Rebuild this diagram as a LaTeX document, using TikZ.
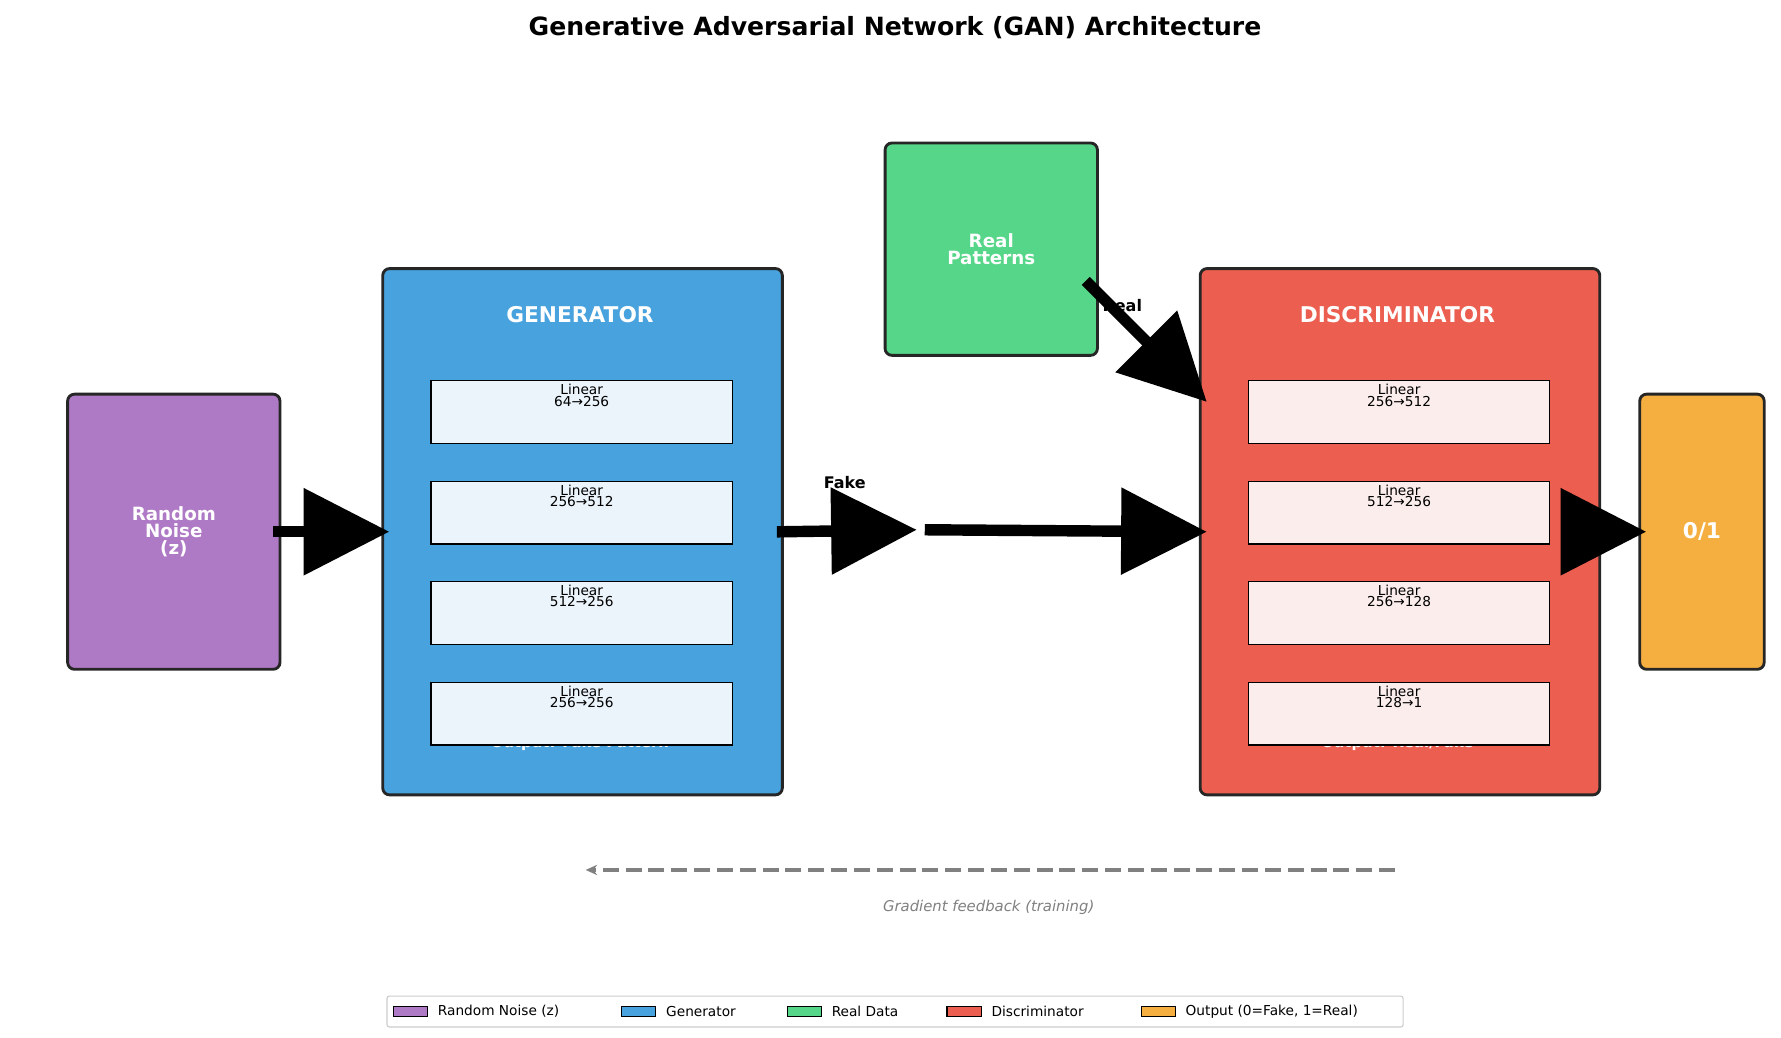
\documentclass[tikz,border=0pt]{standalone}
\usepackage{fontspec}
\setmainfont{DejaVu Sans}
\usetikzlibrary{positioning}
\usetikzlibrary{arrows.meta}
\definecolor{noisec}{RGB}{175,122,197}
\definecolor{genc}{RGB}{72,162,222}
\definecolor{realc}{RGB}{86,214,136}
\definecolor{discc}{RGB}{235,94,80}
\definecolor{outc}{RGB}{245,175,65}
\definecolor{genl}{RGB}{235,244,251}
\definecolor{discl}{RGB}{251,237,236}

\begin{document}
\begin{tikzpicture}[
  x=1pt, y=-1pt,
  block/.style = {draw=black!85, line width=2.5pt, rounded corners=6pt, anchor=north west, inner sep=0pt},
  layer/.style = {draw=black, line width=1pt, anchor=north west, inner sep=0pt,
                  minimum width=264pt, minimum height=55pt},
  ltext/.style = {align=center, font=\fontsize{12}{13}\selectfont, anchor=north},
  btext/.style = {text=white, font=\bfseries\fontsize{16}{18}\selectfont, align=center},
  bigarrow/.style = {line width=10pt, -{Triangle[length=75pt,width=74pt]}},
  legbox/.style = {draw=black, line width=1pt, minimum width=30pt, minimum height=9pt, inner sep=0pt},
  legtext/.style = {font=\fontsize{12}{13}\selectfont, anchor=west},
]
  \useasboundingbox (0,0) rectangle (1560,909);

  \node[font=\bfseries\fontsize{22}{24}\selectfont] (title) at (784,24) {Generative Adversarial Network (GAN) Architecture};

  % blocks
  \node[block, fill=noisec, minimum width=186pt, minimum height=241pt] (noise) at (58,344) {};
  \node[btext] at (noise.center) {Random\\[-3pt]Noise\\[-3pt](z)};

  \node[block, fill=genc, minimum width=350pt, minimum height=461pt] (gen) at (334,234) {};
  \node[btext, font=\bfseries\fontsize{19}{20}\selectfont] at (508,276) {GENERATOR};
  \node[btext, font=\bfseries\fontsize{13}{14}\selectfont] at (508,651) {Output: Fake Pattern};

  \node[block, fill=realc, minimum width=186pt, minimum height=186pt] (real) at (774,124) {};
  \node[btext] at (real.center) {Real\\[-3pt]Patterns};

  \node[block, fill=discc, minimum width=350pt, minimum height=461pt] (disc) at (1050,234) {};
  \node[btext, font=\bfseries\fontsize{19}{20}\selectfont] at (1224,276) {DISCRIMINATOR};
  \node[btext, font=\bfseries\fontsize{13}{14}\selectfont] at (1224,651) {Output: Real/Fake};

  \node[block, fill=outc, minimum width=109pt, minimum height=241pt] (out) at (1435,344) {};
  \node[btext, font=\bfseries\fontsize{19}{20}\selectfont] at (out.center) {0/1};

  % layers
  \foreach \y/\t [count=\i] in {333/64→256, 421/256→512, 509/512→256, 597/256→256}{
    \node[layer, fill=genl] (g\i) at (377,\y) {};
    \node[ltext] at (g\i.north) {Linear\\[-3pt]\t};
  }
  \foreach \y/\t [count=\i] in {333/256→512, 421/512→256, 509/256→128, 597/128→1}{
    \node[layer, fill=discl] (d\i) at (1093,\y) {};
    \node[ltext] at (d\i.north) {Linear\\[-3pt]\t};
  }

  % labels
  \node[font=\bfseries\fontsize{14}{15}\selectfont] (fake) at (740,423) {Fake};
  \node[font=\bfseries\fontsize{14}{15}\selectfont] (reallab) at (983,268) {Real};

  % arrows
  \coordinate (fk) at (806,464);
  \coordinate (rs) at (951,246);
  \coordinate (re) at (1057,352);
  \draw[bigarrow, shorten <=-7pt, shorten >=-7pt] (noise.east) -- (gen.west);
  \draw[bigarrow, shorten <=-6pt, shorten >=3pt] (gen.east) -- (fk);
  \draw[bigarrow, shorten <=4pt, shorten >=-7pt] (fk) -- (disc.west);
  \draw[bigarrow] (rs) -- (re);
  \draw[bigarrow, shorten >=-7pt] (disc.east) -- (out.west);

  % feedback
  \coordinate (fbs) at (1222,762);
  \coordinate (fbe) at (513,762);
  \draw[gray, line width=3pt, dash pattern=on 14pt off 6pt, -{Stealth[length=10pt,width=9pt]}] (fbs) -- (fbe);
  \node[gray, font=\itshape\fontsize{13}{14}\selectfont] (fbtext) at (866,795) {Gradient feedback (training)};

  % legend
  \node[draw=black!20, line width=1pt, rounded corners=2pt, minimum width=890pt, minimum height=27pt] (legend) at (784,886) {};
  \foreach \c/\t/\x in {noisec/Random Noise (z)/344, genc/Generator/544, realc/Real Data/689, discc/Discriminator/829, outc/{Output (0=Fake, 1=Real)}/999}{
    \node[legbox, fill=\c, anchor=west] at (\x,886) {};
    \node[legtext] at (\x+36,886) {\t};
  }
\end{tikzpicture}
\end{document}
